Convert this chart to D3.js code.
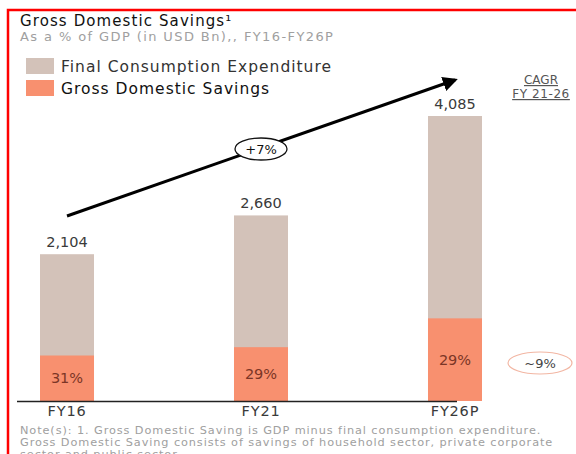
<!DOCTYPE html>
<html>
<head>
  <style>
    body { margin: 0; background: #fff; }
    svg text { font-family: "DejaVu Sans", Roboto, sans-serif; }
  </style>
</head>
<body>
  <svg id="chart" width="576" height="454"></svg>
  <script src="https://d3js.org/d3.v7.min.js"></script>
  <script>
    // Chart data
    const years = ['FY16', 'FY21', 'FY26P'];
    const totals = [2104, 2660, 4085];
    const savingsPct = [31, 29, 29];
    const seriesNames = ['Final Consumption Expenditure', 'Gross Domestic Savings'];
    const colors = ['#d3c2b9', '#f8906f'];

    const svg = d3.select('#chart');

    // red frame
    svg.append('path')
      .attr('d', 'M8,460 V10 H580')
      .attr('fill', 'none')
      .attr('stroke', '#ff0000')
      .attr('stroke-width', 2.5);

    // title block
    svg.append('text').attr('x', 20).attr('y', 26)
      .style('font-size', '15px').style('letter-spacing', '1.1px').style('fill', '#111')
      .text('Gross Domestic Savings¹');
    svg.append('text').attr('x', 20).attr('y', 41)
      .style('font-size', '13px').style('letter-spacing', '1.4px').style('fill', '#a0a0a0')
      .text('As a % of GDP (in USD Bn),, FY16-FY26P');

    // legend
    const legend = svg.append('g').attr('transform', 'translate(26,58)');
    seriesNames.forEach((name, i) => {
      legend.append('rect').attr('x', 0).attr('y', i * 22)
        .attr('width', 28).attr('height', 16).attr('fill', colors[i]);
      legend.append('text').attr('x', 35).attr('y', i * 22 + 14)
        .style('font-size', '15.5px').style('letter-spacing', '1px')
        .style('fill', i ? '#111' : '#333')
        .text(name);
    });

    // scales
    const x = d3.scaleBand().domain(years).range([40, 482]).paddingInner(0.7216).paddingOuter(0);
    const y = d3.scaleLinear().domain([0, 4085]).range([401, 116]);

    const data = years.map((yr, i) => ({
      year: yr, total: totals[i], pct: savingsPct[i],
      savings: totals[i] * savingsPct[i] / 100
    }));

    // consumption (full bar)
    svg.selectAll('.bar-total').data(data).enter().append('rect')
      .attr('x', d => x(d.year)).attr('width', x.bandwidth())
      .attr('y', d => y(d.total)).attr('height', d => y(0) - y(d.total))
      .attr('fill', colors[0]);

    // savings portion
    svg.selectAll('.bar-sav').data(data).enter().append('rect')
      .attr('x', d => x(d.year)).attr('width', x.bandwidth())
      .attr('y', d => y(d.savings)).attr('height', d => y(0) - y(d.savings))
      .attr('fill', colors[1]);

    // total labels
    svg.selectAll('.lbl-total').data(data).enter().append('text')
      .attr('x', d => x(d.year) + x.bandwidth() / 2)
      .attr('y', d => y(d.total) - 7)
      .attr('text-anchor', 'middle')
      .style('font-size', '14.5px').style('fill', '#3a3a3a')
      .text(d => d3.format(',')(d.total));

    // percent labels
    svg.selectAll('.lbl-pct').data(data).enter().append('text')
      .attr('x', d => x(d.year) + x.bandwidth() / 2)
      .attr('y', d => y(d.savings / 2) + 5)
      .attr('text-anchor', 'middle')
      .style('font-size', '14.5px').style('fill', '#7b3526')
      .text(d => d.pct + '%');

    // x axis
    const xAxis = svg.append('g').attr('transform', `translate(0,${y(0)})`)
      .call(d3.axisBottom(x).tickSize(0).tickPadding(5));
    xAxis.select('.domain').attr('d', 'M17,0.5H457').attr('stroke', '#222').attr('stroke-width', 1.5);
    xAxis.selectAll('text').style('font-size', '14.5px').style('letter-spacing', '0.8px')
      .style('font-weight', 'normal')
      .style('fill', '#3a3a3a').style('font-family', '"DejaVu Sans", sans-serif');

    // trend arrow
    svg.append('defs').append('marker')
      .attr('id', 'arrow').attr('viewBox', '0 0 10 10')
      .attr('refX', 8).attr('refY', 5)
      .attr('markerWidth', 5).attr('markerHeight', 5)
      .attr('orient', 'auto')
      .append('path').attr('d', 'M0,0 L10,5 L0,10 z').attr('fill', '#000');
    svg.append('line')
      .attr('x1', 67).attr('y1', 216).attr('x2', 455).attr('y2', 80)
      .attr('stroke', '#000').attr('stroke-width', 3)
      .attr('marker-end', 'url(#arrow)');
    svg.append('ellipse').attr('cx', 261).attr('cy', 149).attr('rx', 26).attr('ry', 11)
      .attr('fill', '#fff').attr('stroke', '#111').attr('stroke-width', 1.3);
    svg.append('text').attr('x', 261).attr('y', 154).attr('text-anchor', 'middle')
      .style('font-size', '13px').style('fill', '#111').text('+7%');

    // CAGR
    const cagr = svg.append('g').attr('text-anchor', 'middle');
    cagr.append('text').attr('x', 541).attr('y', 84).style('font-size', '12px')
      .style('fill', '#555').style('text-decoration', 'underline').text('CAGR');
    cagr.append('text').attr('x', 541).attr('y', 98).style('font-size', '12px')
      .style('letter-spacing', '0.6px')
      .style('fill', '#555').style('text-decoration', 'underline').text('FY 21-26');
    svg.append('ellipse').attr('cx', 540).attr('cy', 363).attr('rx', 32).attr('ry', 11)
      .attr('fill', '#fff').attr('stroke', '#f2b6a3').attr('stroke-width', 1.2);
    svg.append('text').attr('x', 540).attr('y', 368).attr('text-anchor', 'middle')
      .style('font-size', '13px').style('fill', '#444').text('~9%');

    // notes
    const notes = [
      'Note(s): 1. Gross Domestic Saving is GDP minus final consumption expenditure.',
      'Gross Domestic Saving consists of savings of household sector, private corporate',
      'sector and public sector'
    ];
    notes.forEach((n, i) => {
      svg.append('text').attr('x', 20).attr('y', 434 + i * 12)
        .style('font-size', '11.3px').style('letter-spacing', '0.9px')
        .style('fill', '#a0a0a0').text(n);
    });
  </script>
</body>
</html>
